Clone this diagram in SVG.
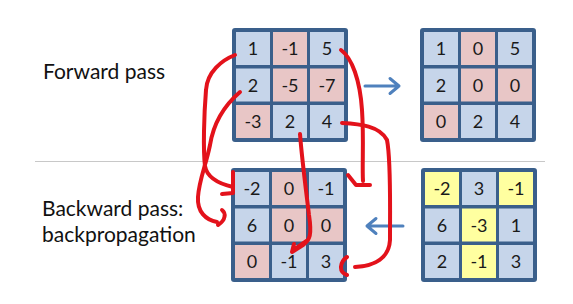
<svg xmlns="http://www.w3.org/2000/svg" width="573" height="304" viewBox="0 0 573 304">
<defs>
<style>
.frame{fill:#3A5F8B}
.b{fill:#C6D5EA}
.p{fill:#E8C6C6}
.y{fill:#FFFFA0}
.num{font-family:Lato,"Open Sans",sans-serif;font-size:18px;fill:#1A1A1A;text-anchor:middle}
.lbl{font-family:Lato,"Open Sans",sans-serif;font-size:21px;fill:#111}
.red{fill:none;stroke:#E3121B;stroke-width:4;stroke-linecap:round;stroke-linejoin:round}
.blue{fill:none;stroke:#4F81BD;stroke-width:3;stroke-linecap:round;stroke-linejoin:round}
.sep{stroke:#C8C8C8;stroke-width:1}
</style>
</defs>
<rect width="573" height="304" fill="#FFFFFF"/>
<line class="sep" x1="35" y1="161.5" x2="545" y2="161.5"/>

<g id="label-forward"><text class="lbl" x="43" y="79">Forward pass</text></g>
<g id="label-backward"><text class="lbl" x="42" y="216">Backward pass:</text><text class="lbl" x="42" y="242">backpropagation</text></g>

<g id="m-input" transform="translate(232,28)">
<rect class="frame" width="116" height="114" rx="3"/>
<rect class="b" x="4" y="4" width="34" height="33"/><rect class="p" x="41" y="4" width="34" height="33"/><rect class="b" x="78" y="4" width="34" height="33"/>
<rect class="b" x="4" y="40.5" width="34" height="33"/><rect class="p" x="41" y="40.5" width="34" height="33"/><rect class="p" x="78" y="40.5" width="34" height="33"/>
<rect class="p" x="4" y="77" width="34" height="33"/><rect class="b" x="41" y="77" width="34" height="33"/><rect class="b" x="78" y="77" width="34" height="33"/>
<text class="num" x="21" y="27">1</text><text class="num" x="58" y="27">-1</text><text class="num" x="95" y="27">5</text>
<text class="num" x="21" y="63.5">2</text><text class="num" x="58" y="63.5">-5</text><text class="num" x="95" y="63.5">-7</text>
<text class="num" x="21" y="100">-3</text><text class="num" x="58" y="100">2</text><text class="num" x="95" y="100">4</text>
</g>

<g id="m-output" transform="translate(420,28)">
<rect class="frame" width="116" height="114" rx="3"/>
<rect class="b" x="4" y="4" width="34" height="33"/><rect class="p" x="41" y="4" width="34" height="33"/><rect class="b" x="78" y="4" width="34" height="33"/>
<rect class="b" x="4" y="40.5" width="34" height="33"/><rect class="p" x="41" y="40.5" width="34" height="33"/><rect class="p" x="78" y="40.5" width="34" height="33"/>
<rect class="p" x="4" y="77" width="34" height="33"/><rect class="b" x="41" y="77" width="34" height="33"/><rect class="b" x="78" y="77" width="34" height="33"/>
<text class="num" x="21" y="27">1</text><text class="num" x="58" y="27">0</text><text class="num" x="95" y="27">5</text>
<text class="num" x="21" y="63.5">2</text><text class="num" x="58" y="63.5">0</text><text class="num" x="95" y="63.5">0</text>
<text class="num" x="21" y="100">0</text><text class="num" x="58" y="100">2</text><text class="num" x="95" y="100">4</text>
</g>

<g id="m-grad-in" transform="translate(231,168)">
<rect class="frame" width="116" height="114" rx="3"/>
<rect class="b" x="4" y="4" width="34" height="33"/><rect class="p" x="41" y="4" width="34" height="33"/><rect class="b" x="78" y="4" width="34" height="33"/>
<rect class="b" x="4" y="40.5" width="34" height="33"/><rect class="p" x="41" y="40.5" width="34" height="33"/><rect class="p" x="78" y="40.5" width="34" height="33"/>
<rect class="p" x="4" y="77" width="34" height="33"/><rect class="b" x="41" y="77" width="34" height="33"/><rect class="b" x="78" y="77" width="34" height="33"/>
<text class="num" x="21" y="27">-2</text><text class="num" x="58" y="27">0</text><text class="num" x="95" y="27">-1</text>
<text class="num" x="21" y="63.5">6</text><text class="num" x="58" y="63.5">0</text><text class="num" x="95" y="63.5">0</text>
<text class="num" x="21" y="100">0</text><text class="num" x="58" y="100">-1</text><text class="num" x="95" y="100">3</text>
</g>

<g id="m-grad-out" transform="translate(421,168)">
<rect class="frame" width="116" height="114" rx="3"/>
<rect class="y" x="4" y="4" width="34" height="33"/><rect class="b" x="41" y="4" width="34" height="33"/><rect class="y" x="78" y="4" width="34" height="33"/>
<rect class="b" x="4" y="40.5" width="34" height="33"/><rect class="y" x="41" y="40.5" width="34" height="33"/><rect class="b" x="78" y="40.5" width="34" height="33"/>
<rect class="b" x="4" y="77" width="34" height="33"/><rect class="y" x="41" y="77" width="34" height="33"/><rect class="b" x="78" y="77" width="34" height="33"/>
<text class="num" x="21" y="27">-2</text><text class="num" x="58" y="27">3</text><text class="num" x="95" y="27">-1</text>
<text class="num" x="21" y="63.5">6</text><text class="num" x="58" y="63.5">-3</text><text class="num" x="95" y="63.5">1</text>
<text class="num" x="21" y="100">2</text><text class="num" x="58" y="100">-1</text><text class="num" x="95" y="100">3</text>
</g>

<g id="connectors">
<path class="blue" d="M365,86 L399,86 M390,78.5 L399,86 L390,93.5"/>
<path class="blue" d="M403,226 L367,226 M376,218.5 L367,226 L376,233.5"/>
<path class="red" d="M235,55 C222,60 207,72 206,90 C204,115 203,150 205,166 C207,178 220,184 233,187 M233,172 L233,193 L222,194"/>
<path class="red" d="M240,92 C226,104 214,120 210,145 C206,165 199,180 198,197 C197,212 206,220 217,222 M222,210 C226,213 226,220 218,225"/>
<path class="red" d="M300,134 C302,160 306,190 309,215 C312,235 310,240 303,245 L292,252 L294,244 M308,240 L295,249"/>
<path class="red" d="M341,50 C352,58 360,80 362,110 C364,140 362,165 363,181 M348,175 L356,185 L370,185"/>
<path class="red" d="M342,123 C360,124 380,126 387,140 C391,160 390,200 390,240 C389,258 375,266 355,267 M347,257 C340,262 338,272 347,275"/>
</g>
</svg>
